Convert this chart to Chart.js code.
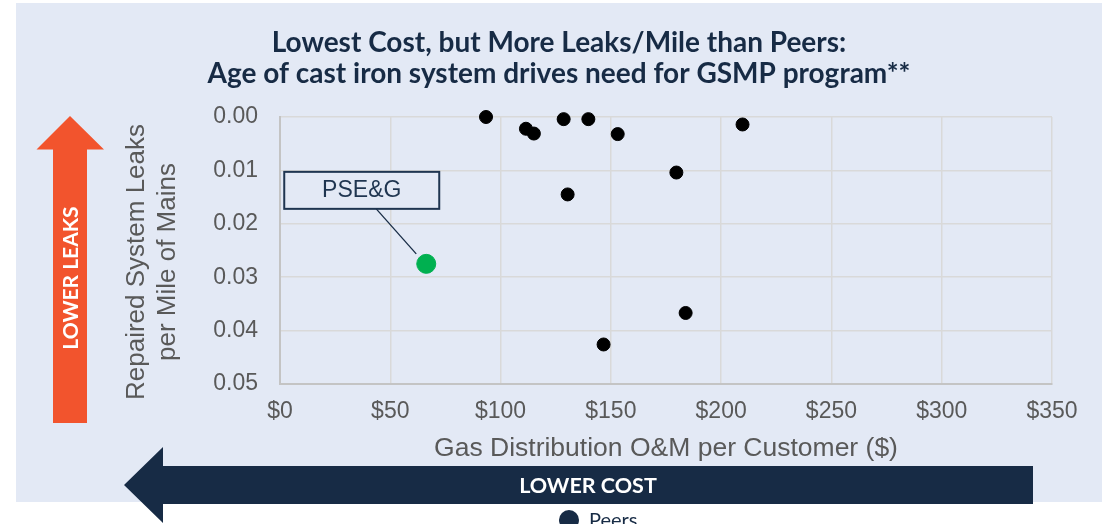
<!DOCTYPE html>
<html>
<head>
<meta charset="utf-8">
<script src="https://cdn.jsdelivr.net/npm/chart.js@4.4.1/dist/chart.umd.min.js"></script>
<style>
html,body{margin:0;padding:0;background:#ffffff;overflow:hidden;}
#wrap{position:absolute;left:0;top:0;width:1109px;height:524px;}
</style>
</head>
<body>
<div id="wrap"><canvas id="c" width="1109" height="524"></canvas></div>
<script>
// ---- data ----
const titleLines = ["Lowest Cost, but More Leaks/Mile than Peers:", "Age of cast iron system drives need for GSMP program**"];
const xTitle = "Gas Distribution O&M per Customer ($)";
const yTitle = ["Repaired System Leaks", "per Mile of Mains"];
const peerLabel = "Peers";
const peerCost  = [93.4, 111.5, 115.1, 128.6, 139.8, 153.1, 130.4, 179.7, 183.9, 146.7, 209.7];
const peerLeaks = [0.0000, 0.0022, 0.0031, 0.0004, 0.0004, 0.0032, 0.0145, 0.0104, 0.0367, 0.0426, 0.0014];
const psegLabel = "PSE&G";
const psegCost  = [66.3];
const psegLeaks = [0.0275];
const xTicks = [0, 50, 100, 150, 200, 250, 300, 350];
const yTicks = [0.00, 0.01, 0.02, 0.03, 0.04, 0.05];
const arrowUpText = "LOWER LEAKS";
const arrowLeftText = "LOWER COST";

const NAVY = '#172b45';
const ORANGE = '#f2542d';
const BG = '#e3e9f5';
const GREY = '#595959';
const SANS = '"Liberation Sans", Arial';

function toPts(xs, ys){ return xs.map((x,i)=>({x:x, y:ys[i]})); }

const decor = {
  id:'decor',
  beforeDraw(chart){
    const ctx = chart.ctx;
    ctx.save();
    ctx.fillStyle = '#ffffff';
    ctx.fillRect(0,0,chart.width,chart.height);
    ctx.fillStyle = BG;
    ctx.fillRect(16,3,1086,499);
    ctx.restore();
  },
  afterDraw(chart){
    const ctx = chart.ctx;
    ctx.save();
    // title
    ctx.fillStyle = NAVY;
    ctx.font = 'bold 28px Lato';
    ctx.textAlign = 'center';
    ctx.textBaseline = 'middle';
    ctx.fillText(titleLines[0], 559, 43);
    ctx.fillText(titleLines[1], 559, 74);

    // y axis title (two rotated lines)
    ctx.save();
    ctx.fillStyle = GREY;
    ctx.font = '26px ' + SANS;
    ctx.translate(0, 262);
    ctx.rotate(-Math.PI/2);
    ctx.fillText(yTitle[0], 0, 137);
    ctx.fillText(yTitle[1], 0, 168);
    ctx.restore();

    // orange up arrow
    ctx.fillStyle = ORANGE;
    ctx.beginPath();
    ctx.moveTo(70,116);
    ctx.lineTo(104,149.5);
    ctx.lineTo(87,149.5);
    ctx.lineTo(87,423);
    ctx.lineTo(53,423);
    ctx.lineTo(53,149.5);
    ctx.lineTo(36.5,149.5);
    ctx.closePath();
    ctx.fill();
    ctx.save();
    ctx.translate(71,278);
    ctx.rotate(-Math.PI/2);
    ctx.fillStyle = '#ffffff';
    ctx.font = 'bold 21px Lato';
    ctx.textAlign = 'center';
    ctx.textBaseline = 'middle';
    ctx.fillText(arrowUpText,0,0);
    ctx.restore();

    // navy left arrow
    ctx.fillStyle = NAVY;
    ctx.beginPath();
    ctx.moveTo(124,485);
    ctx.lineTo(163,447);
    ctx.lineTo(163,466);
    ctx.lineTo(1033,466);
    ctx.lineTo(1033,504);
    ctx.lineTo(163,504);
    ctx.lineTo(163,523);
    ctx.closePath();
    ctx.fill();
    ctx.fillStyle = '#ffffff';
    ctx.font = 'bold 21.5px Lato';
    ctx.textAlign = 'center';
    ctx.textBaseline = 'middle';
    ctx.fillText(arrowLeftText,588,486);

    // legend (Peers)
    ctx.fillStyle = NAVY;
    ctx.beginPath();
    ctx.arc(569,520,10,0,Math.PI*2);
    ctx.fill();
    ctx.font = '20px Lato';
    ctx.textAlign = 'left';
    ctx.fillText(peerLabel,589,521);

    // PSE&G callout
    const xs = chart.scales.x, ys = chart.scales.y;
    const px = xs.getPixelForValue(psegCost[0]);
    const py = ys.getPixelForValue(psegLeaks[0]);
    ctx.strokeStyle = NAVY;
    ctx.lineWidth = 1.3;
    ctx.beginPath();
    ctx.moveTo(px-50, py-55);
    ctx.lineTo(px-10, py-10);
    ctx.stroke();
    ctx.fillStyle = BG;
    ctx.fillRect(px-142, py-92, 155, 37);
    ctx.lineWidth = 2;
    ctx.strokeStyle = '#1f3550';
    ctx.strokeRect(px-142, py-92, 155, 37);
    ctx.fillStyle = '#1f3550';
    ctx.font = '23px ' + SANS;
    ctx.textAlign = 'center';
    ctx.textBaseline = 'middle';
    ctx.fillText(psegLabel, px-64.5, py-73);
    ctx.restore();
  }
};

new Chart(document.getElementById('c'), {
  type:'scatter',
  data:{
    datasets:[
      {label:psegLabel, data:toPts(psegCost, psegLeaks), backgroundColor:'#00b050', borderColor:'#00b050', pointRadius:9.5, pointHoverRadius:9.5, clip:false, order:0},
      {label:peerLabel, data:toPts(peerCost, peerLeaks), backgroundColor:'#000000', borderColor:'#000000', pointRadius:6.5, pointHoverRadius:6.5, clip:false, order:1}
    ]
  },
  options:{
    responsive:false,
    animation:false,
    devicePixelRatio:1,
    layout:{padding:{left:0, right:57, top:117, bottom:0}},
    plugins:{legend:{display:false}, tooltip:{enabled:false}, title:{display:false}},
    scales:{
      x:{
        type:'linear', min:xTicks[0], max:xTicks[xTicks.length-1],
        afterBuildTicks(s){ s.ticks = xTicks.map(v=>({value:v})); },
        afterFit(s){ s.height = 140; },
        ticks:{callback:v=>'$'+v, color:GREY, font:{family:SANS, size:23}, padding:14, maxRotation:0},
        grid:{color:'#d9d9d9', lineWidth:1.5, drawTicks:false},
        border:{color:'#c4c4c4', width:2},
        title:{display:true, text:xTitle, color:GREY, font:{family:SANS, size:26.5}, padding:{top:0,bottom:59}}
      },
      y:{
        type:'linear', reverse:true, min:yTicks[0], max:yTicks[yTicks.length-1],
        afterBuildTicks(s){ s.ticks = yTicks.map(v=>({value:v})); },
        afterFit(s){ s.width = 280; },
        ticks:{callback:v=>Number(v).toFixed(2), color:GREY, font:{family:SANS, size:23}, padding:22},
        grid:{color:'#d9d9d9', lineWidth:1.5, drawTicks:false},
        border:{color:'#c4c4c4', width:2},
        title:{display:false}
      }
    }
  },
  plugins:[decor]
});
</script>
</body>
</html>
